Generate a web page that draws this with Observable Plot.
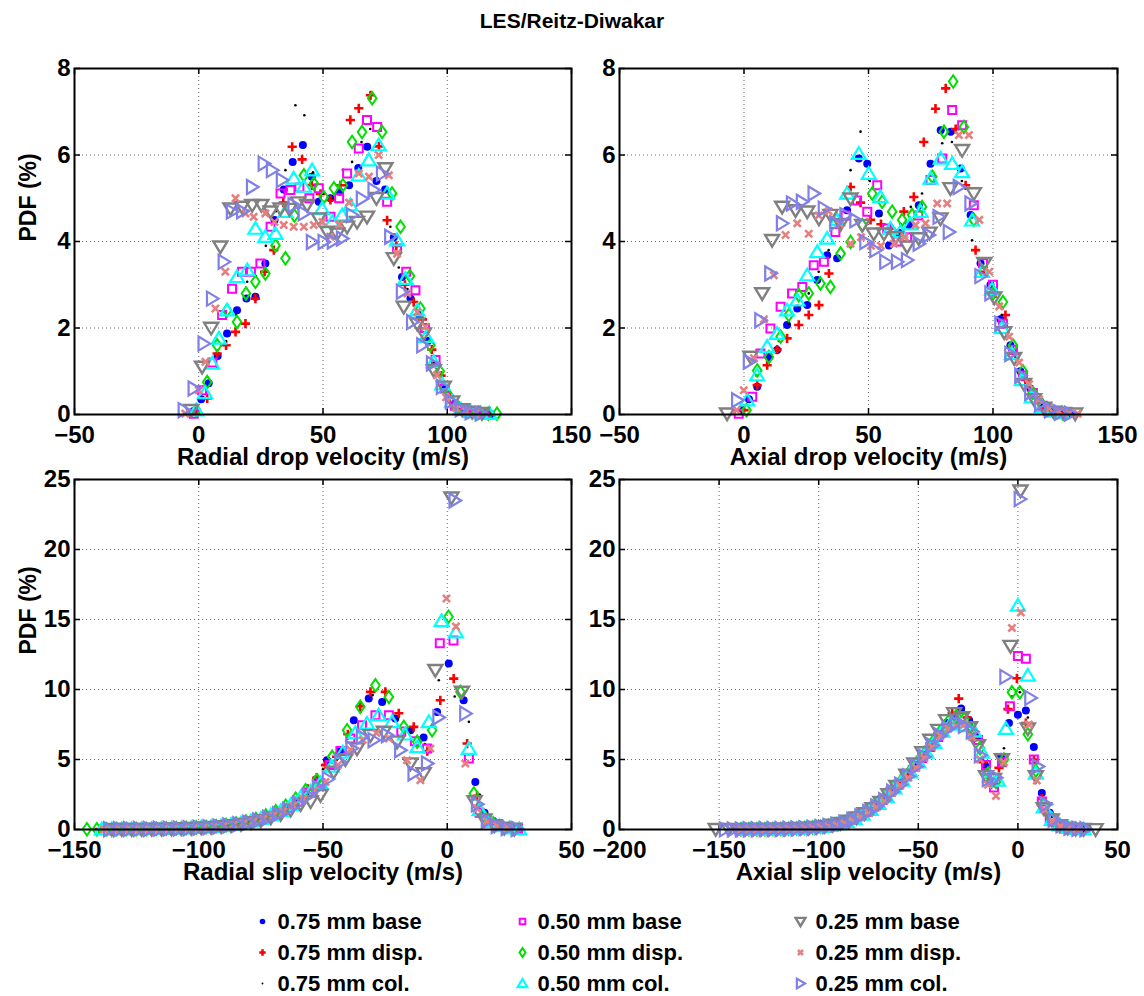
<!DOCTYPE html>
<html><head><meta charset="utf-8">
<script src="https://cdn.jsdelivr.net/npm/d3@7"></script>
<script src="https://cdn.jsdelivr.net/npm/@observablehq/plot@0.6"></script>
<style>
body{margin:0;background:#fff;}
#root{position:relative;width:1144px;height:996px;overflow:hidden;font-family:"Liberation Sans",Arial,sans-serif;}
#root svg{position:absolute;overflow:visible;background:none;}
#title{position:absolute;left:0;top:8px;width:1144px;text-align:center;font-weight:bold;font-size:21px;line-height:26px;}
</style></head>
<body><div id="root"><div id="title">LES/Reitz-Diwakar</div></div>
<script>
// ---------- series ----------
const seriesNames = ["0.75 mm base","0.75 mm disp.","0.75 mm col.","0.50 mm base","0.50 mm disp.","0.50 mm col.","0.25 mm base","0.25 mm disp.","0.25 mm col."];
const seriesColors = ["#0000ff","#ff0000","#000000","#ff00ff","#00e000","#00ffff","#808080","#e67f7f","#8080e6"];

// ---------- Radial drop velocity (top left) : [velocity m/s, PDF %] ----------
const rd_b75 = [[-2,0.08],[1,0.35],[4,0.72],[7.6,1.35],[11.4,1.87],[15.4,2.41],[19.2,2.68],[22.8,2.72],[26.8,3.49],[30.5,4.5],[34.2,5.2],[37.8,5.84],[41.9,6.23],[45.5,5.5],[48.3,4.92],[53,5.0],[56.8,5.15],[60.5,5.3],[64.2,5.7],[67.8,6.19],[71.5,5.4],[75,5.2],[78.5,4.1],[81.8,3.18],[85.2,2.68],[88.8,2.3],[92.2,1.7],[95.8,1.15],[99.3,0.6],[103,0.25],[106.5,0.12],[110,0.06],[114,0.03],[117.5,0.01]];
const rd_d75 = [[-1,0.1],[3.4,0.37],[7.4,1.41],[11,1.6],[14.8,1.91],[18.8,2.1],[22.8,2.68],[26.5,3.3],[30.2,3.8],[34,4.9],[37.6,6.19],[41.6,5.9],[45.5,5.3],[49,5.1],[53,4.96],[57,5.3],[61,6.81],[64.4,7.08],[69.1,7.38],[72.5,6.2],[75.8,4.49],[79.5,3.9],[83,3.0],[86.5,2.6],[90,2.2],[93.8,1.5],[97.5,0.9],[101,0.4],[104.8,0.15],[108.5,0.07],[112,0.03],[116,0.02]];
const rd_c75 = [[-1,0.1],[3,0.5],[7.4,1.1],[11,1.7],[15,2.3],[19.5,3.07],[23,3.2],[27,3.9],[31,4.7],[34.9,5.65],[38.9,7.15],[42.5,6.92],[46,5.6],[50,5.1],[54,5.0],[58,5.66],[61.7,5.84],[65.5,6.3],[69,6.6],[73,5.7],[77.1,4.34],[80.5,3.4],[84,2.9],[87.5,2.4],[91,1.9],[94.5,1.2],[98,0.6],[102,0.25],[105.5,0.1],[109,0.05],[113,0.02]];
const rd_b50 = [[-2,0.02],[1.35,0.56],[5.5,1.2],[9.4,2.3],[13.4,2.91],[17.4,3.3],[21,3.3],[24.8,3.49],[28.9,4.34],[32.9,5.11],[36.9,5.19],[40.5,5.25],[44.5,5.0],[48.3,5.23],[53,4.57],[56.5,5.0],[59.7,5.57],[64.4,6.15],[67.7,6.81],[71.8,6.65],[75.8,4.92],[79.8,3.84],[83.5,3.3],[87.2,2.87],[91,2.0],[95.3,1.26],[99,0.6],[103,0.2],[107,0.1],[111,0.05],[115,0.02]];
const rd_d50 = [[-1,0.1],[3.4,0.75],[7.4,1.6],[11.4,2.41],[15.4,2.14],[19,2.8],[22.8,3.07],[26.8,3.26],[30.9,3.91],[34.9,3.61],[38.5,4.6],[42.3,5.53],[46.3,5.34],[50.3,5.03],[54.4,5.23],[58,5.3],[61.7,6.3],[65.7,6.53],[69.8,7.31],[73.8,6.53],[77.8,5.11],[81.2,4.34],[85,3.2],[89.2,2.45],[93.2,1.6],[97,1.0],[100.5,0.45],[104.5,0.15],[108.5,0.07],[112.5,0.04],[116.5,0.02],[120,0.02]];
const rd_c50 = [[-1,0.1],[2.5,0.5],[5.4,1.18],[8.1,1.76],[11.4,2.41],[15.4,3.18],[19.5,3.34],[22.8,4.3],[26.8,4.11],[30.9,4.18],[34.9,4.69],[38.2,5.46],[42.3,5.27],[45.6,5.65],[49.6,4.76],[53.7,4.45],[57.7,4.61],[61,4.84],[64.4,5.53],[68.4,5.88],[72.4,6.23],[75.8,5.11],[79.8,4.03],[83.2,3.14],[87.9,2.41],[91.5,1.8],[94.6,1.22],[98,0.7],[102,0.3],[105.5,0.12],[109.5,0.06],[113.5,0.03],[117,0.02]];
const rd_b25 = [[-3,0.1],[1.35,1.1],[5,2.0],[8.7,3.88],[12.75,4.76],[17.4,4.8],[21.5,4.84],[25.2,4.84],[28.9,4.69],[32.9,4.76],[36.5,4.75],[40,4.9],[43.6,4.84],[48.3,4.53],[51.7,4.22],[55.7,4.18],[59.7,4.34],[63.7,4.45],[67.7,4.57],[71.5,5.0],[75.1,5.69],[78.5,3.61],[82.5,2.49],[87.9,2.1],[90.6,1.87],[94.6,1.02],[98.6,0.64],[102,0.3],[106,0.12],[110,0.06],[114,0.03]];
const rd_d25 = [[-5.4,0.02],[0,0.56],[2.7,1.22],[6.7,2.45],[10.7,3.3],[14.8,5.0],[18.8,4.65],[22.1,4.57],[26.8,4.65],[30.5,4.45],[34.2,4.38],[38.2,4.34],[42.3,4.34],[46.3,4.38],[49.8,4.45],[53,4.11],[56.5,4.4],[60.5,4.9],[64.4,5.57],[68.5,5.5],[72.4,6.0],[76.5,5.53],[79.8,3.72],[84,2.8],[87.9,2.37],[91.2,2.03],[95.9,0.91],[99.5,0.4],[103.5,0.15],[107.5,0.07],[111.5,0.03]];
const rd_c25 = [[-6,0.1],[-2,0.6],[2,1.64],[5.4,2.68],[10.1,3.53],[13.4,4.69],[17.5,4.7],[21.5,5.26],[26.2,5.8],[29.5,5.65],[33.5,5.42],[38.2,4.84],[42.3,4.65],[45.6,3.99],[50.3,3.99],[54,4.0],[57.7,4.07],[61.7,4.61],[65.7,4.99],[70.4,5.19],[73.8,5.57],[77.1,4.11],[81.8,2.84],[85.9,2.14],[90,1.6],[93.9,1.18],[97.9,0.64],[101.5,0.3],[105.5,0.12],[109.5,0.05],[113.5,0.02]];

// ---------- Axial drop velocity (top right) ----------
const ad_b75 = [[-1,0.1],[2,0.35],[5.3,0.64],[10,1.33],[13.3,1.49],[17.3,2.07],[21.4,2.45],[25.4,2.53],[29.4,3.11],[33.4,3.68],[37.4,3.61],[41.4,4.72],[46.1,5.92],[49.5,5.8],[54.2,4.65],[58.2,3.91],[62.2,4.2],[66.2,4.38],[70.2,4.84],[74.9,5.8],[79,6.57],[83,6.54],[87,5.69],[91,4.61],[95,3.5],[99,3.0],[103,2.2],[107,1.6],[111,1.0],[115,0.6],[119,0.3],[123,0.12],[127,0.05],[131,0.02]];
const ad_d75 = [[0,0.1],[5.3,0.68],[9.3,1.14],[13.3,1.5],[17.3,1.76],[22,2.07],[26,2.3],[30.1,2.53],[34.1,3.26],[38.5,4.4],[42.8,5.26],[46.8,4.9],[50.8,4.5],[55,4.4],[59,4.3],[64.2,4.69],[68.2,5.03],[72.2,6.3],[76.9,7.07],[81,7.54],[85,6.6],[89,5.3],[93,3.8],[97,3.3],[101,2.8],[105,2.3],[109,1.4],[113,0.8],[117,0.4],[121,0.15],[125,0.06],[129,0.03]];
const ad_c75 = [[0,0.2],[5,0.9],[10,1.2],[14,1.7],[18,2.1],[22,2.5],[26,2.8],[30,3.3],[34,3.8],[38,4.6],[42.8,5.65],[46.8,6.54],[50.5,5.4],[55,4.6],[59,4.3],[63,4.4],[67,4.8],[71.5,5.11],[75.5,5.8],[79.6,6.27],[83.5,6.3],[87.5,5.4],[91.6,4.03],[95.5,3.4],[99.5,2.9],[103.5,2.3],[107.5,1.5],[111.5,0.9],[115.5,0.5],[119.5,0.2],[123.5,0.08]];
const ad_b50 = [[-2.1,0.02],[3.3,0.41],[6.6,1.41],[10.6,1.99],[14.7,2.49],[19.3,2.8],[23.4,2.95],[28,3.45],[32.1,3.53],[36.7,4.22],[40.8,4.6],[45.4,4.95],[49.5,4.69],[53.5,5.3],[57.5,4.3],[61.5,4.0],[65.5,4.1],[70,4.6],[74.9,5.42],[79.6,5.92],[83.6,7.04],[87.6,6.69],[92.3,4.84],[96,3.5],[100,3.0],[104,2.1],[108,1.5],[112,0.9],[116,0.5],[120,0.2],[124,0.08],[128,0.03]];
const ad_d50 = [[1,0.1],[5.3,1.02],[10,1.33],[14.7,1.8],[18,2.3],[22,2.76],[26,2.8],[30.7,3.03],[34.7,2.95],[38.8,3.72],[42.8,3.99],[47.5,4.38],[51.5,5.11],[55.5,4.92],[59.5,4.69],[63.5,4.5],[67.5,4.61],[71.5,4.8],[75.6,5.5],[80.3,6.54],[84,7.7],[88.3,6.65],[92.3,4.5],[96,3.3],[100,2.8],[104,2.6],[108,1.6],[112,1.0],[116,0.5],[120,0.2],[124,0.08],[128,0.03]];
const ad_c50 = [[1.3,0.33],[5.3,0.91],[9.3,1.57],[13.3,1.87],[17.3,2.41],[21.4,2.64],[25.4,3.22],[29.4,3.76],[33.4,4.07],[37.4,4.5],[41.4,5.11],[46.1,6.03],[50.1,5.57],[54.8,5.03],[58.8,4.3],[62.8,4.22],[66.8,4.4],[70.9,4.69],[74.9,5.46],[79,5.92],[83.6,5.8],[87.6,5.61],[91.6,4.49],[95.6,3.3],[99.6,2.9],[103.6,2.0],[107.6,1.4],[111.6,0.8],[115.6,0.4],[119.6,0.18],[123.6,0.07],[127.6,0.03]];
const ad_b25 = [[-6.8,0.02],[2.6,1.33],[7.3,2.8],[11.3,4.03],[15.3,4.8],[20.7,4.72],[25.4,4.69],[30.1,4.53],[34.7,4.61],[38.8,4.4],[42.8,4.99],[47.5,4.38],[52.1,4.18],[56.2,4.18],[61,4.1],[65.5,3.88],[70.2,4.07],[74.5,4.2],[78.9,4.53],[82.9,5.23],[87.6,6.11],[92.3,5.11],[96.5,3.5],[100.5,2.7],[104.5,1.9],[108.5,1.3],[112.5,0.7],[116.5,0.35],[120.5,0.15],[124.5,0.06],[128.5,0.03],[133,0.02]];
const ad_d25 = [[-3,0.1],[-0.1,0.56],[4,1.3],[8,2.2],[12,3.22],[16.7,4.15],[21.4,4.42],[26,4.18],[30,4.6],[34,4.7],[38.5,4.4],[42.8,3.95],[47,4.1],[51,3.9],[55,3.9],[60.2,3.95],[64.5,4.1],[68.9,4.38],[72.9,4.42],[77.6,4.88],[81.6,4.88],[86.3,6.46],[90.3,6.46],[94.5,4.5],[98.5,3.3],[102.5,2.5],[106.5,1.8],[110.5,1.2],[114.5,0.7],[118.5,0.35],[122.5,0.15],[126.5,0.07],[130.5,0.03],[134,0.02]];
const ad_c25 = [[-2.7,0.33],[2,1.22],[6.6,2.18],[10.6,3.26],[15.3,4.42],[19.3,4.88],[23.3,4.92],[28,5.11],[32.1,4.76],[36.7,4.42],[40.8,4.61],[44.8,4.49],[48.8,3.99],[52.8,3.8],[56.8,3.53],[61.5,3.53],[65.5,3.57],[70.2,3.95],[74.2,4.15],[78.2,4.57],[82.3,4.22],[86.3,5.26],[91,4.88],[95,3.2],[99,2.8],[103,2.1],[107,1.4],[111,0.9],[115,0.5],[119,0.25],[123,0.1],[127,0.04],[131,0.02]];

// ---------- Radial slip velocity (bottom left) ----------
const rs_b75 = [[-137,0.02],[-133,0.02],[-129,0.03],[-125,0.03],[-121,0.04],[-117,0.05],[-113,0.06],[-109,0.08],[-105,0.1],[-101,0.13],[-97,0.17],[-93,0.22],[-89,0.3],[-85,0.4],[-81,0.52],[-77,0.68],[-73,0.9],[-69,1.15],[-65,1.5],[-61,1.95],[-57,2.6],[-52.5,3.6],[-48.4,4.95],[-43,5.66],[-37.6,7.8],[-31.6,9.35],[-26.2,9.11],[-20.9,7.92],[-14.8,7.09],[-9.5,6.57],[-4.1,8.4],[0.6,11.85],[6.6,9.23],[11.3,3.4],[15,1.2],[18.5,0.6],[22,0.25],[25.5,0.1],[29,0.03]];
const rs_d75 = [[-140,0.03],[-136,0.02],[-132,0.03],[-128,0.03],[-124,0.04],[-120,0.05],[-116,0.06],[-112,0.07],[-108,0.09],[-104,0.12],[-100,0.15],[-96,0.19],[-92,0.25],[-88,0.33],[-84,0.44],[-80,0.58],[-76,0.75],[-72,1.0],[-68,1.3],[-64,1.7],[-60,2.2],[-56,2.9],[-52.5,3.7],[-49,4.6],[-44.5,5.2],[-40,6.8],[-35,8.8],[-30.9,9.83],[-24.9,9.83],[-19.5,8.3],[-13.5,7.33],[-8,5.6],[-2.8,9.23],[2.6,10.78],[8,6.14],[12,2.4],[15.5,1.0],[19,0.5],[23,0.2],[27,0.05]];
const rs_c75 = [[-138,0.02],[-134,0.02],[-130,0.03],[-126,0.03],[-122,0.04],[-118,0.05],[-114,0.06],[-110,0.07],[-106,0.09],[-102,0.12],[-98,0.16],[-94,0.2],[-90,0.27],[-86,0.36],[-82,0.48],[-78,0.63],[-74,0.82],[-70,1.08],[-66,1.4],[-62,1.8],[-58,2.4],[-54,3.2],[-50,4.3],[-45,5.3],[-40,6.5],[-35,8.4],[-30,9.6],[-25,9.3],[-20,7.9],[-15,6.9],[-9,6.1],[-3.4,10.66],[3,9.5],[8.7,7.69],[13,2.5],[17,0.9],[21,0.35],[25,0.1]];
const rs_b50 = [[-136,0.02],[-132,0.02],[-128,0.03],[-124,0.03],[-120,0.04],[-116,0.05],[-112,0.06],[-108,0.08],[-104,0.1],[-100,0.13],[-96,0.17],[-92,0.23],[-88,0.3],[-84,0.4],[-80,0.53],[-76,0.7],[-72,0.92],[-68,1.2],[-64,1.55],[-60,2.0],[-56,2.6],[-51,3.3],[-47,4.6],[-43,5.6],[-39,6.5],[-34.3,7.45],[-28.9,8.16],[-23.5,8.16],[-18.5,7.0],[-13,6.3],[-8.1,5.78],[-3,13.3],[2.5,13.5],[8.7,5.07],[13,1.2],[17,0.5],[21,0.2],[25,0.08],[28.5,0.03]];
const rs_d50 = [[-145,0.02],[-141,0.02],[-137,0.02],[-133,0.03],[-129,0.03],[-125,0.04],[-121,0.04],[-117,0.05],[-113,0.07],[-109,0.09],[-105,0.11],[-101,0.14],[-97,0.18],[-93,0.24],[-89,0.32],[-85,0.43],[-81,0.57],[-77,0.75],[-73,1.0],[-69,1.3],[-65,1.7],[-61,2.2],[-57,2.8],[-52.4,3.52],[-46.3,5.19],[-40.3,7.09],[-35,8.76],[-28.9,10.3],[-23.5,9.47],[-17.5,7.33],[-12.1,6.26],[-6.1,7.09],[0.5,15.2],[5.3,9.83],[10.7,2.57],[14.5,1.0],[18.5,0.45],[22.5,0.15],[26.5,0.05]];
const rs_c50 = [[-139,0.02],[-135,0.02],[-131,0.03],[-127,0.03],[-123,0.04],[-119,0.05],[-115,0.06],[-111,0.07],[-107,0.09],[-103,0.12],[-99,0.15],[-95,0.2],[-91,0.26],[-87,0.34],[-83,0.45],[-79,0.6],[-75,0.78],[-71,1.02],[-67,1.33],[-63,1.75],[-59,2.3],[-55,2.7],[-51,3.3],[-46.5,4.5],[-42,5.5],[-37,6.9],[-32.3,7.57],[-27.6,8.16],[-22.2,7.69],[-17,6.8],[-12,5.9],[-7.4,7.69],[-2.3,14.9],[3.5,14.1],[8.7,5.78],[13,1.4],[17,0.6],[21,0.25],[25,0.1],[29,0.03]];
const rs_b25 = [[-135,0.02],[-131,0.02],[-127,0.03],[-123,0.03],[-119,0.04],[-115,0.05],[-111,0.06],[-107,0.08],[-103,0.1],[-99,0.13],[-95,0.17],[-91,0.22],[-87,0.29],[-83,0.38],[-79,0.5],[-75,0.65],[-71,0.85],[-67,1.1],[-63,1.4],[-59,1.8],[-55,2.0],[-51,2.45],[-45.7,4.11],[-41,5.0],[-36.3,5.78],[-30.9,6.73],[-25.5,6.97],[-20.2,6.26],[-14.8,4.71],[-9.5,4.0],[-4.8,11.38],[1.7,23.7],[5.9,9.83],[11,2.0],[15,0.7],[19,0.3],[23,0.12],[27,0.05]];
const rs_d25 = [[-138,0.02],[-134,0.02],[-130,0.02],[-126,0.03],[-122,0.03],[-118,0.04],[-114,0.05],[-110,0.07],[-106,0.09],[-102,0.11],[-98,0.15],[-94,0.19],[-90,0.25],[-86,0.33],[-82,0.44],[-78,0.58],[-74,0.76],[-70,1.0],[-66,1.3],[-62,1.7],[-58,2.2],[-53.5,2.8],[-49,3.4],[-44,4.6],[-39,5.7],[-34,6.4],[-28.5,6.9],[-23.5,6.5],[-16.2,4.95],[-10.8,3.52],[-6.8,5.78],[-0.3,16.5],[3.5,14.5],[7.3,4.71],[12,1.5],[16,0.6],[20,0.25],[24,0.1]];
const rs_c25 = [[-136,0.02],[-132,0.02],[-128,0.03],[-124,0.03],[-120,0.04],[-116,0.05],[-112,0.06],[-108,0.07],[-104,0.09],[-100,0.12],[-96,0.16],[-92,0.21],[-88,0.28],[-84,0.37],[-80,0.49],[-76,0.64],[-72,0.84],[-68,1.1],[-64,1.42],[-60,1.85],[-56,2.4],[-52,3.0],[-48,3.6],[-43,4.8],[-38.5,5.8],[-34.3,6.61],[-29.6,6.38],[-24.2,6.73],[-18.9,5.66],[-13.5,4.0],[-8.1,4.71],[-3.5,8.0],[3,23.5],[7.3,8.28],[12,1.8],[16,0.6],[20,0.25],[24,0.1],[28,0.04]];

// ---------- Axial slip velocity (bottom right) ----------
const as_b75 = [[-140,0.01],[-136,0.01],[-132,0.02],[-128,0.02],[-124,0.03],[-120,0.04],[-116,0.05],[-112,0.07],[-108,0.1],[-104,0.13],[-100,0.18],[-96,0.25],[-92,0.35],[-88,0.5],[-84,0.7],[-80,1.0],[-76,1.3],[-72,1.7],[-68,2.2],[-64,2.8],[-60,3.4],[-56,4.0],[-52,4.6],[-48,5.3],[-44,6.0],[-40,6.8],[-36,7.6],[-32,8.1],[-28.5,8.64],[-24.5,7.8],[-20.5,6.6],[-16.5,4.6],[-12.5,3.3],[-8.5,5.2],[-4.5,7.6],[0,8.2],[4,8.5],[8,5.9],[12,2.6],[16,1.2],[20,0.5],[24,0.2],[28,0.08],[32,0.03]];
const as_d75 = [[-141,0.01],[-137,0.01],[-133,0.02],[-129,0.02],[-125,0.03],[-121,0.04],[-117,0.05],[-113,0.07],[-109,0.09],[-105,0.12],[-101,0.17],[-97,0.23],[-93,0.33],[-89,0.47],[-85,0.66],[-81,0.92],[-77,1.25],[-73,1.6],[-69,2.1],[-65,2.65],[-61,3.3],[-57,3.9],[-53,4.5],[-49,5.2],[-45,5.9],[-41,6.7],[-37,7.4],[-33,8.3],[-29.7,9.35],[-25.5,8.0],[-21.5,6.6],[-17.5,4.8],[-13.5,3.2],[-9.5,4.4],[-5,8.6],[-0.5,10.8],[4,7.6],[8,5.0],[12,2.2],[16,1.0],[20,0.45],[24,0.18],[28,0.07],[32,0.03]];
const as_c75 = [[-139,0.01],[-135,0.01],[-131,0.02],[-127,0.02],[-123,0.03],[-119,0.04],[-115,0.06],[-111,0.08],[-107,0.1],[-103,0.14],[-99,0.19],[-95,0.27],[-91,0.38],[-87,0.54],[-83,0.75],[-79,1.05],[-75,1.4],[-71,1.8],[-67,2.3],[-63,2.9],[-59,3.5],[-55,4.1],[-51,4.8],[-47,5.5],[-43,6.2],[-39,7.0],[-35,7.7],[-31,8.2],[-27,8.4],[-23,7.5],[-19,6.2],[-15,4.3],[-11,3.4],[-7,5.8],[-3,9.5],[1,9.8],[5,8.0],[9,4.8],[13,2.0],[17,0.9],[21,0.4],[25,0.15],[29,0.06]];
const as_b50 = [[-140,0.01],[-136,0.01],[-132,0.02],[-128,0.02],[-124,0.03],[-120,0.04],[-116,0.05],[-112,0.07],[-108,0.09],[-104,0.13],[-100,0.18],[-96,0.24],[-92,0.34],[-88,0.48],[-84,0.67],[-80,0.95],[-76,1.25],[-72,1.65],[-68,2.1],[-64,2.7],[-60,3.2],[-56,3.8],[-52,4.5],[-48,5.1],[-44,5.9],[-40,6.6],[-36,7.3],[-32,7.9],[-28,8.0],[-24,7.4],[-20,6.4],[-16,4.6],[-12,3.0],[-8,4.8],[-4,8.8],[0,12.4],[4,12.2],[8,5.0],[12,2.0],[16,0.8],[20,0.35],[24,0.15],[28,0.06],[32,0.02]];
const as_d50 = [[-139,0.01],[-135,0.01],[-131,0.02],[-127,0.02],[-123,0.03],[-119,0.04],[-115,0.05],[-111,0.07],[-107,0.1],[-103,0.14],[-99,0.19],[-95,0.26],[-91,0.37],[-87,0.52],[-83,0.73],[-79,1.02],[-75,1.35],[-71,1.75],[-67,2.25],[-63,2.85],[-59,3.4],[-55,4.0],[-51,4.7],[-47,5.4],[-43,6.2],[-39,7.0],[-35,7.7],[-31,8.1],[-27,7.9],[-23,7.2],[-19,5.8],[-15,4.0],[-11,3.4],[-7,5.0],[-3,9.8],[1,9.8],[5,6.8],[9,4.2],[13,1.8],[17,0.8],[21,0.35],[25,0.15],[29,0.05]];
const as_c50 = [[-138,0.01],[-134,0.01],[-130,0.02],[-126,0.02],[-122,0.03],[-118,0.04],[-114,0.06],[-110,0.08],[-106,0.11],[-102,0.15],[-98,0.2],[-94,0.28],[-90,0.4],[-86,0.56],[-82,0.78],[-78,1.08],[-74,1.42],[-70,1.85],[-66,2.35],[-62,2.95],[-58,3.5],[-54,4.1],[-50,4.8],[-46,5.5],[-42,6.2],[-38,7.0],[-34,7.5],[-30,7.7],[-26,7.4],[-22,7.0],[-18,5.5],[-14,3.8],[-10,3.5],[-6,7.2],[0,16.0],[5,11.0],[9,4.0],[13,1.6],[17,0.7],[21,0.3],[25,0.12],[29,0.05],[33,0.02]];
const as_b25 = [[-151.7,0.02],[-145.2,0.02],[-141,0.01],[-137,0.02],[-133,0.02],[-129,0.03],[-125,0.03],[-121,0.04],[-117,0.05],[-113,0.07],[-109,0.09],[-105,0.12],[-101,0.17],[-97,0.23],[-93,0.32],[-89,0.45],[-85,0.62],[-81,0.85],[-77,1.15],[-73,1.5],[-69,1.95],[-65,2.5],[-61,3.1],[-56,3.9],[-52,4.7],[-48,5.5],[-44,6.4],[-40,7.1],[-36,7.8],[-32,8.3],[-28,8.0],[-24,7.3],[-20,6.0],[-16,3.8],[-12,3.6],[-8,5.0],[-3.7,13.1],[1.3,24.2],[5,7.2],[9,3.8],[13,1.5],[17,0.7],[21,0.3],[25,0.12],[29,0.05],[33,0.02],[39,0.01]];
const as_d25 = [[-139,0.01],[-135,0.01],[-131,0.02],[-127,0.02],[-123,0.03],[-119,0.04],[-115,0.05],[-111,0.06],[-107,0.09],[-103,0.12],[-99,0.17],[-95,0.23],[-91,0.33],[-87,0.46],[-83,0.65],[-79,0.9],[-75,1.2],[-71,1.6],[-67,2.05],[-63,2.6],[-59,3.15],[-55,3.7],[-51,4.4],[-47,5.1],[-43,5.9],[-39,6.7],[-35,7.2],[-31,7.4],[-27,7.5],[-23,6.6],[-19,5.0],[-15,3.2],[-11,2.4],[-7,4.8],[-3,14.4],[1.5,15.5],[5.5,7.5],[9.5,3.5],[13.5,1.4],[17.5,0.6],[21.5,0.25],[25.5,0.1],[29.5,0.04]];
const as_c25 = [[-147,0.01],[-143,0.01],[-139,0.01],[-135,0.02],[-131,0.02],[-127,0.03],[-123,0.03],[-119,0.04],[-115,0.05],[-111,0.07],[-107,0.1],[-103,0.13],[-99,0.18],[-95,0.25],[-91,0.35],[-87,0.49],[-83,0.68],[-79,0.94],[-75,1.25],[-71,1.65],[-67,2.1],[-63,2.7],[-59,3.2],[-55,3.8],[-51,4.5],[-47,5.2],[-43,6.0],[-39,6.7],[-35,7.2],[-31,7.6],[-27,7.4],[-23,7.0],[-19,5.3],[-15,3.6],[-11,3.7],[-6.2,10.9],[1,23.6],[6.3,9.4],[10,4.5],[14,1.8],[18,0.7],[22,0.3],[26,0.12],[30,0.05],[34,0.02]];

// ---------- axes ----------
const dropTicksX = [-50,0,50,100,150];
const dropTicksY = [0,2,4,6,8];
const radialSlipTicksX = [-150,-100,-50,0,50];
const axialSlipTicksX = [-200,-150,-100,-50,0,50];
const slipTicksY = [0,5,10,15,20,25];

// ---------- symbols ----------
const S = (fn) => ({draw(ctx, size){ fn(ctx, Math.sqrt(size/Math.PI)); }});
const symCircle = S((c,r)=>{c.moveTo(r,0); c.arc(0,0,r,0,2*Math.PI);});
const symPlus = S((c,r)=>{c.moveTo(-r,0);c.lineTo(r,0);c.moveTo(0,-r);c.lineTo(0,r);});
const symSquare = S((c,r)=>{c.rect(-r,-r,2*r,2*r);});
const symDiamond = S((c,r)=>{c.moveTo(0,-r*1.45);c.lineTo(r,0);c.lineTo(0,r*1.45);c.lineTo(-r,0);c.closePath();});
const symUp = S((c,r)=>{c.moveTo(0,-r);c.lineTo(r*1.08,r*0.8);c.lineTo(-r*1.08,r*0.8);c.closePath();});
const symDown = S((c,r)=>{c.moveTo(0,r);c.lineTo(r*1.08,-r*0.8);c.lineTo(-r*1.08,-r*0.8);c.closePath();});
const symRight = S((c,r)=>{c.moveTo(r,0);c.lineTo(-r*0.8,-r*1.08);c.lineTo(-r*0.8,r*1.08);c.closePath();});
const symTimes = S((c,r)=>{c.moveTo(-r,-r);c.lineTo(r,r);c.moveTo(-r,r);c.lineTo(r,-r);});

const styles = [
  {symbol:symCircle, r:4, fill:seriesColors[0], stroke:"none"},
  {symbol:symPlus, r:4.6, fill:"none", stroke:seriesColors[1], strokeWidth:2.6},
  {symbol:symCircle, r:1.3, fill:seriesColors[2], stroke:"none"},
  {symbol:symSquare, r:4, fill:"none", stroke:seriesColors[3], strokeWidth:2},
  {symbol:symDiamond, r:4.3, fill:"none", stroke:seriesColors[4], strokeWidth:2},
  {symbol:symUp, r:6.5, fill:"none", stroke:seriesColors[5], strokeWidth:2.2},
  {symbol:symDown, r:6.5, fill:"none", stroke:seriesColors[6], strokeWidth:2.4},
  {symbol:symTimes, r:3.6, fill:"none", stroke:seriesColors[7], strokeWidth:2.6},
  {symbol:symRight, r:6.5, fill:"none", stroke:seriesColors[8], strokeWidth:2.2}
];

const FONT = "Liberation Sans, Arial, sans-serif";
const root = document.getElementById("root");

function panel(cfg) {
  const W = 580, H = cfg.h;
  const mL = 74, mT = 20, innerW = cfg.innerW, innerH = cfg.innerH;
  const mR = W - mL - innerW, mB = H - mT - innerH;
  const gridStyle = {stroke:"#666", strokeOpacity:1, strokeWidth:1, strokeDasharray:"1,3"};
  const marks = [
    Plot.gridX(cfg.xTicks, gridStyle),
    Plot.gridY(cfg.yTicks, gridStyle),
    Plot.tickX(cfg.xTicks, {x:d=>d, insetTop: innerH-6, stroke:"black", strokeWidth:1.5}),
    Plot.tickX(cfg.xTicks, {x:d=>d, insetBottom: innerH-6, stroke:"black", strokeWidth:1.5}),
    Plot.tickY(cfg.yTicks, {y:d=>d, insetRight: innerW-6, stroke:"black", strokeWidth:1.5}),
    Plot.tickY(cfg.yTicks, {y:d=>d, insetLeft: innerW-6, stroke:"black", strokeWidth:1.5}),
    ...cfg.series.map((pts, i) => Plot.dot(pts, {x:d=>d[0], y:d=>d[1], ...styles[i]})),
    Plot.frame({stroke:"black", strokeWidth:2}),
    Plot.axisX({ticks:cfg.xTicks, tickSize:0, tickPadding:11, label:null, fontSize:24, fontWeight:"bold"}),
    Plot.axisY({ticks:cfg.yTicks, tickSize:0, tickPadding:4, label:null, fontSize:24, fontWeight:"bold"}),
    Plot.text([cfg.xLabel], {frameAnchor:"bottom", lineAnchor:"middle", dy:43, text:d=>d, fontSize:24, fontWeight:"bold", fill:"black"})
  ];
  if (cfg.yLabel) marks.push(Plot.text([cfg.yLabel], {frameAnchor:"left", lineAnchor:"middle", dx:-46, rotate:-90, text:d=>d, fontSize:23, fontWeight:"bold", fill:"black"}));
  const svg = Plot.plot({
    width: W, height: H,
    marginLeft: mL, marginRight: mR, marginTop: mT, marginBottom: mB,
    x: {domain: cfg.xDomain}, y: {domain: cfg.yDomain},
    style: {fontFamily: FONT, color:"black", background:"none", overflow:"visible"},
    marks
  });
  svg.style.left = cfg.left + "px";
  svg.style.top = cfg.top + "px";
  root.appendChild(svg);
}

panel({left:0, top:48, h:430, innerW:497, innerH:346, xDomain:[-50,150], yDomain:[0,8], xTicks:dropTicksX, yTicks:dropTicksY,
  xLabel:"Radial drop velocity (m/s)", yLabel:"PDF (%)",
  series:[rd_b75,rd_d75,rd_c75,rd_b50,rd_d50,rd_c50,rd_b25,rd_d25,rd_c25]});
panel({left:545, top:48, h:430, innerW:498, innerH:346, xDomain:[-50,150], yDomain:[0,8], xTicks:dropTicksX, yTicks:dropTicksY,
  xLabel:"Axial drop velocity (m/s)", yLabel:null,
  series:[ad_b75,ad_d75,ad_c75,ad_b50,ad_d50,ad_c50,ad_b25,ad_d25,ad_c25]});
panel({left:0, top:459, h:430, innerW:497, innerH:350, xDomain:[-150,50], yDomain:[0,25], xTicks:radialSlipTicksX, yTicks:slipTicksY,
  xLabel:"Radial slip velocity (m/s)", yLabel:"PDF (%)",
  series:[rs_b75,rs_d75,rs_c75,rs_b50,rs_d50,rs_c50,rs_b25,rs_d25,rs_c25]});
panel({left:545, top:459, h:430, innerW:498, innerH:350, xDomain:[-200,50], yDomain:[0,25], xTicks:axialSlipTicksX, yTicks:slipTicksY,
  xLabel:"Axial slip velocity (m/s)", yLabel:null,
  series:[as_b75,as_d75,as_c75,as_b50,as_d50,as_c50,as_b25,as_d25,as_c25]});

// ---------- legend: one small plot per column ----------
const legendColumnsLeft = [262, 522, 800];
const legendItems = seriesNames.map((name, i) => ({name, col: Math.floor(i/3), row: i%3, i}));
legendColumnsLeft.forEach((left, col) => {
  const items = legendItems.filter(d => d.col === col);
  const lg = Plot.plot({
    width:280, height:101, margin:0,
    x:{domain:[0,1], axis:null},
    y:{type:"point", domain:[0,1,2], range:[26,88], padding:0, axis:null},
    style:{fontFamily:FONT, color:"black", background:"none", overflow:"visible"},
    marks:[
      ...items.map(it => Plot.dot([it], {y:"row", frameAnchor:"left", ...styles[it.i], r: styles[it.i].r*0.7})),
      Plot.text(items, {y:"row", frameAnchor:"left", text:"name", dx:15, textAnchor:"start", lineAnchor:"middle", fontSize:22, fontWeight:"bold", fill:"black"})
    ]
  });
  lg.style.left = left + "px"; lg.style.top = "895px";
  root.appendChild(lg);
});
</script>
</body></html>
